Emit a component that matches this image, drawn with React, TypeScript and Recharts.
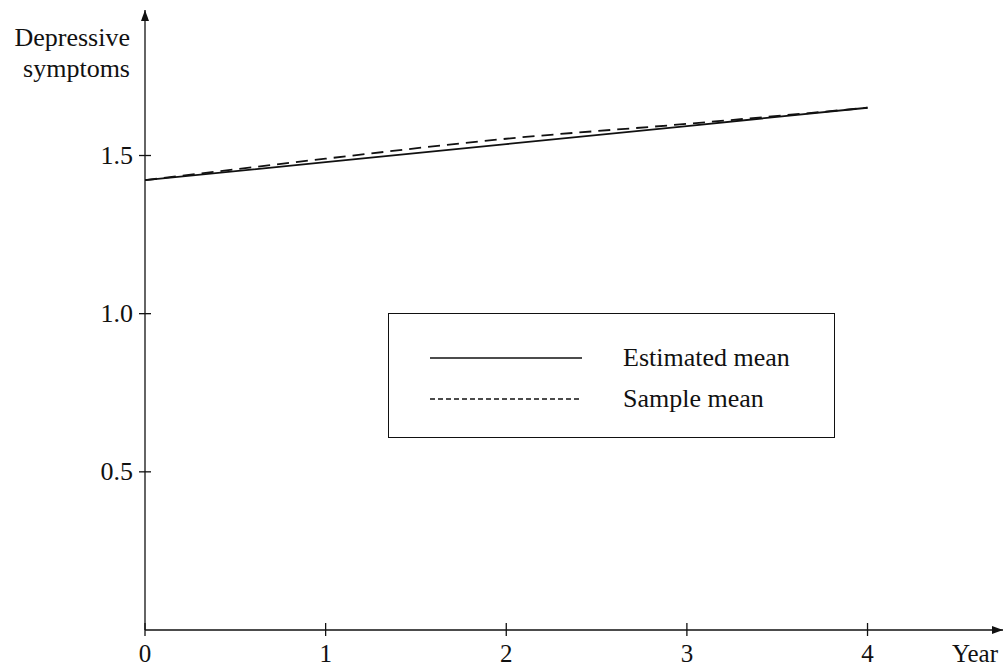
import { LineChart, Line, XAxis, YAxis, Legend, ReferenceDot } from "recharts";

const years = [0, 1, 2, 3, 4];
const estimatedMean = [1.422, 1.479, 1.536, 1.593, 1.651];
const sampleMean = [1.422, 1.49, 1.553, 1.6, 1.651];
const xTicks = [0, 1, 2, 3, 4];
const yTicks = [0.5, 1.0, 1.5];

const data = years.map((y, i) => ({
  year: y,
  estimated: estimatedMean[i],
  sample: sampleMean[i],
}));

const FONT = '"Liberation Serif", "Times New Roman", serif';
const INK = "#111";

function XTick(props: any) {
  const { x, y, payload } = props;
  return (
    <g>
      <line x1={x} x2={x} y1={y - 7} y2={y + 6} stroke={INK} strokeWidth={1.3} />
      <text x={x} y={y + 32} textAnchor="middle" fontFamily={FONT} fontSize={25} fill={INK}>
        {payload.value}
      </text>
    </g>
  );
}

function YTick(props: any) {
  const { x, y, payload } = props;
  return (
    <g>
      <line x1={x - 6} x2={x + 6} y1={y} y2={y} stroke={INK} strokeWidth={1.3} />
      <text x={x - 12} y={y + 8} textAnchor="end" fontFamily={FONT} fontSize={26} fill={INK}>
        {Number(payload.value).toFixed(1)}
      </text>
    </g>
  );
}

function ArrowUp(props: any) {
  const { cx, cy } = props;
  return <path d={`M${cx},${cy} L${cx - 4},${cy + 11} L${cx + 4},${cy + 11} Z`} fill={INK} />;
}

function ArrowRight(props: any) {
  const { cx, cy } = props;
  return <path d={`M${cx},${cy} L${cx - 11},${cy - 4} L${cx - 11},${cy + 4} Z`} fill={INK} />;
}

function LegendBox() {
  const rows = [
    { label: "Estimated mean", dash: undefined as string | undefined, y: 44 },
    { label: "Sample mean", dash: "5 3", y: 85 },
  ];
  return (
    <div
      style={{
        width: 447,
        height: 125,
        border: `1.5px solid ${INK}`,
        boxSizing: "border-box",
        background: "#fff",
      }}
    >
      <svg width={444} height={122} style={{ display: "block" }}>
        {rows.map((r) => (
          <g key={r.label}>
            <line
              x1={41}
              x2={193}
              y1={r.y}
              y2={r.y}
              stroke={INK}
              strokeWidth={1.5}
              strokeDasharray={r.dash}
            />
            <text x={234} y={r.y + 8} fontFamily={FONT} fontSize={26} fill={INK}>
              {r.label}
            </text>
          </g>
        ))}
      </svg>
    </div>
  );
}

export default function App() {
  return (
    <div style={{ position: "absolute", left: 0, top: 0, background: "#fff" }}>
      <LineChart
        width={1005}
        height={668}
        data={data}
        margin={{ top: 10, right: 2, bottom: 0, left: 0 }}
      >
        <XAxis
          dataKey="year"
          type="number"
          domain={[0, 4.75]}
          ticks={xTicks}
          tick={<XTick />}
          tickLine={false}
          tickSize={0}
          tickMargin={0}
          height={38}
          axisLine={{ stroke: INK, strokeWidth: 1.3 }}
          allowDataOverflow
          label={{
            content: (p: any) => {
              const vb = p.viewBox;
              return (
                <text
                  x={vb.x + vb.width - 28}
                  y={vb.y + 32}
                  textAnchor="middle"
                  fontFamily={FONT}
                  fontSize={25}
                  fill={INK}
                >
                  Year
                </text>
              );
            },
          }}
        />
        <YAxis
          type="number"
          domain={[0, 1.96]}
          ticks={yTicks}
          tick={<YTick />}
          tickLine={false}
          tickSize={0}
          tickMargin={0}
          width={145}
          axisLine={{ stroke: INK, strokeWidth: 1.3 }}
          allowDataOverflow
          label={{
            content: (p: any) => {
              const vb = p.viewBox;
              const rx = vb.x + vb.width - 15;
              return (
                <text textAnchor="end" fontFamily={FONT} fontSize={26} fill={INK}>
                  <tspan x={rx} y={vb.y + 36}>
                    Depressive
                  </tspan>
                  <tspan x={rx} y={vb.y + 67}>
                    symptoms
                  </tspan>
                </text>
              );
            },
          }}
        />
        <Legend
          verticalAlign="middle"
          align="center"
          layout="horizontal"
          wrapperStyle={{ left: 388, top: 313, width: 447, height: 125 }}
          content={() => <LegendBox />}
        />
        <Line
          dataKey="estimated"
          name="Estimated mean"
          type="linear"
          stroke={INK}
          strokeWidth={1.8}
          dot={false}
          isAnimationActive={false}
        />
        <Line
          dataKey="sample"
          name="Sample mean"
          type="monotone"
          stroke={INK}
          strokeWidth={1.8}
          strokeDasharray="12 7"
          dot={false}
          isAnimationActive={false}
        />
        <ReferenceDot x={0} y={1.96} r={0} shape={<ArrowUp />} ifOverflow="visible" />
        <ReferenceDot x={4.75} y={0} r={0} shape={<ArrowRight />} ifOverflow="visible" />
      </LineChart>
    </div>
  );
}
